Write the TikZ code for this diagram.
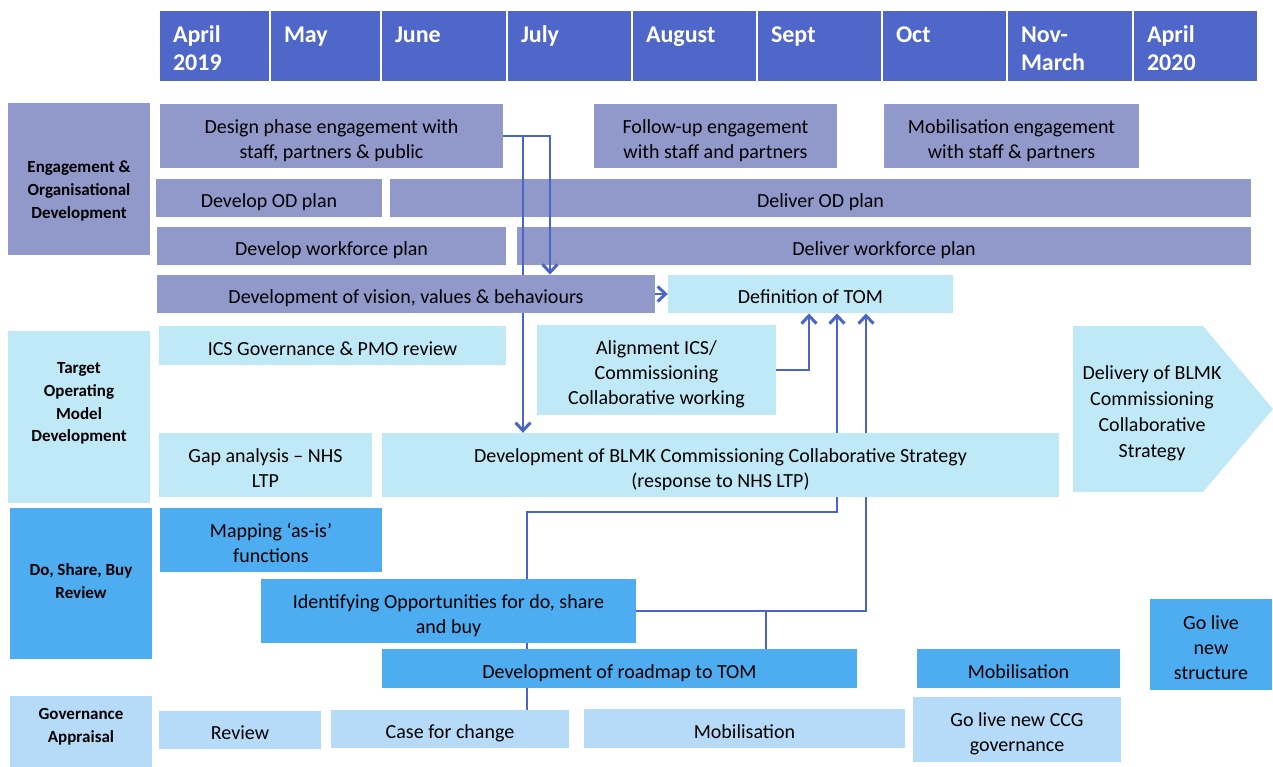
\documentclass[tikz,border=0pt]{standalone}
\usepackage{fontspec}
\setmainfont{Carlito}
\usetikzlibrary{arrows.meta}
\usetikzlibrary{positioning}

\definecolor{hdrfill}{HTML}{4F67C8}
\definecolor{engfill}{HTML}{9199CB}
\definecolor{tomfill}{HTML}{C0E9F8}
\definecolor{dsbfill}{HTML}{4EACF0}
\definecolor{govfill}{HTML}{B6DBF9}
\definecolor{connblue}{HTML}{4A64C8}

\newcommand{\tlbody}{\fontsize{20}{25}\selectfont}
\newcommand{\tlhdr}{\bfseries\fontsize{24}{28}\selectfont}
\newcommand{\tllab}{\bfseries\fontsize{17}{22.8}\selectfont}
% text block of a bar, first line pushed down a little
\newcommand{\mlines}[1]{\begin{tabular}{@{}c@{}}\rule{0pt}{27pt}#1\end{tabular}}

\pgfdeclarelayer{background}
\pgfdeclarelayer{foreground}
\pgfsetlayers{background,main,foreground}

\tikzset{
  wh/.style 2 args={minimum width=#1pt,minimum height=#2pt},
  box/.style={rectangle,inner sep=2pt,font=\tlbody,text=black},
  engbox/.style={box,fill=engfill},
  tombox/.style={box,fill=tomfill},
  dsbbox/.style={box,fill=dsbfill},
  govbox/.style={box,fill=govfill},
  lab/.style={font=\tllab,align=center,inner sep=0pt},
  hdr/.style={rectangle,fill=hdrfill,text=white,font=\tlhdr,align=left,inner sep=0pt,minimum height=70pt,
    execute at begin node={\rule{0pt}{24pt}},
    execute at end node={\rule[-2pt]{0pt}{0pt}}},
  conn/.style={draw=connblue,line width=2pt},
  arrowtop/.style={-{Straight Barb[length=8pt,width=15pt,line width=3pt]}}
}

\begin{document}
\begin{tikzpicture}[x=1pt,y=-1pt]
  \useasboundingbox (0,0) rectangle (1273,767);

  % months
  \node[hdr,minimum width=109pt,text width=83pt] (apr19) at (214.5,46) {April\\2019};
  \node[hdr,minimum width=109pt,text width=83pt] (may) at (325.5,46) {May\\~};
  \node[hdr,minimum width=124pt,text width=98pt] (jun) at (444,46) {June\\~};
  \node[hdr,minimum width=123pt,text width=97pt] (jul) at (569.5,46) {July\\~};
  \node[hdr,minimum width=123pt,text width=97pt] (aug) at (694.5,46) {August\\~};
  \node[hdr,minimum width=123pt,text width=97pt] (sep) at (819.5,46) {Sept\\~};
  \node[hdr,minimum width=123pt,text width=97pt] (oct) at (944.5,46) {Oct\\~};
  \node[hdr,minimum width=124pt,text width=98pt] (nov) at (1070,46) {Nov-\\March};
  \node[hdr,minimum width=123pt,text width=97pt] (apr20) at (1195.5,46) {April\\2020};

  % engagement & OD
  \node[engbox,wh={142}{152}] (englab) at (79,179) {};
  \node[lab] (englabtxt) at (79,191) {Engagement \&\\Organisational\\Development};
  \node[engbox,wh={343}{64}] (design) at (331.5,136) {\mlines{Design phase engagement with\\staff, partners \& public}};
  \node[engbox,wh={243}{64}] (followup) at (715.5,136) {\mlines{Follow-up engagement\\with staff and partners}};
  \node[engbox,wh={255}{64}] (mobeng) at (1011.5,136) {\mlines{Mobilisation engagement\\with staff \& partners}};
  \node[engbox,wh={226}{38}] (devod) at (269,198) {\mlines{Develop OD plan}};
  \node[engbox,wh={861}{38}] (delod) at (820.5,198) {\mlines{Deliver OD plan}};
  \node[engbox,wh={349}{38}] (devwf) at (331.5,246) {\mlines{Develop workforce plan}};
  \node[engbox,wh={734}{38}] (delwf) at (884,246) {\mlines{Deliver workforce plan}};
  \begin{pgfonlayer}{foreground}
    \node[engbox,wh={498}{38}] (vision) at (406,294) {\mlines{Development of vision, values \& behaviours}};
  \end{pgfonlayer}

  % target operating model
  \node[tombox,wh={142}{172}] (tomlab) at (79,417) {};
  \node[lab] (tomlabtxt) at (79,403.5) {Target\\Operating\\Model\\Development};
  \node[tombox,wh={285}{38}] (tom) at (810.5,294) {\mlines{Definition of TOM}};
  \node[tombox,wh={347}{39}] (ics) at (332.5,345.5) {\mlines{ICS Governance \& PMO review}};
  \node[tombox,wh={239}{90}] (align) at (656.5,370) {\mlines{Alignment ICS/\\Commissioning\\Collaborative working}};
  \node[tombox,wh={213}{64}] (gap) at (265.5,465) {\mlines{Gap analysis -- NHS\\LTP}};
  \node[tombox,wh={677}{64}] (blmk) at (720.5,465) {\mlines{Development of BLMK Commissioning Collaborative Strategy\\(response to NHS LTP)}};
  \fill[tomfill] (1073,326) -- (1203,326) -- (1273,409) -- (1203,492) -- (1073,492) -- cycle;
  \node[box,font=\fontsize{20}{25.8}\selectfont] (delivery) at (1152,409) {\mlines{Delivery of BLMK\\Commissioning\\Collaborative\\Strategy}};

  % do, share, buy
  \node[dsbbox,wh={142}{151}] (dsblab) at (81,583.5) {};
  \node[lab] (dsblabtxt) at (81,581) {Do, Share, Buy\\Review};
  \node[dsbbox,wh={222}{64}] (mapping) at (271,540) {\mlines{Mapping ‘as-is’\\functions}};
  \node[dsbbox,wh={375}{64}] (ident) at (448.5,611) {\mlines{Identifying Opportunities for do, share\\and buy}};
  \node[dsbbox,wh={475}{39}] (roadmap) at (619.5,668.5) {\mlines{Development of roadmap to TOM}};
  \node[dsbbox,wh={203}{39}] (mobdsb) at (1018.5,668.5) {\mlines{Mobilisation}};
  \node[dsbbox,wh={122}{91}] (golive) at (1211,644.5) {\mlines{Go live\\new\\structure}};

  % governance
  \node[govbox,wh={142}{71}] (govlab) at (81,731.5) {};
  \node[lab] (govlabtxt) at (81,726.5) {Governance\\Appraisal};
  \node[govbox,wh={162}{38}] (review) at (240,730) {\mlines{Review}};
  \node[govbox,wh={238}{38}] (case) at (450,729) {\mlines{Case for change}};
  \node[govbox,wh={321}{39}] (mobgov) at (744.5,728.5) {\mlines{Mobilisation}};
  \node[govbox,wh={208}{65}] (goccg) at (1017,729.5) {\mlines{Go live new CCG\\governance}};

  % connectors
  \coordinate (j1) at (550,136);
  \coordinate (j2) at (523,136);
  \coordinate (t1) at (809,370);
  \coordinate (t2) at (837,512);
  \coordinate (j3) at (527,512);
  \coordinate (t3) at (866,611);
  \coordinate (j4) at (766,611);
  \draw[conn,arrowtop] (design.east) -- (j1) -- (j1 |- vision.north);
  \draw[conn,arrowtop] (j2) -- (j2 |- blmk.north);
  \draw[conn,arrowtop] (align.east) -- (t1) -- (t1 |- tom.south);
  \draw[conn,arrowtop] (vision.east) -- (tom.west);
  \begin{pgfonlayer}{background}
    \draw[conn,arrowtop] (j3 |- case.north) -- (j3) -- (t2) -- (t2 |- tom.south);
    \draw[conn,arrowtop] (ident.east) -- (t3) -- (t3 |- tom.south);
    \draw[conn] (j4 |- roadmap.north) -- (j4);
  \end{pgfonlayer}
\end{tikzpicture}
\end{document}
